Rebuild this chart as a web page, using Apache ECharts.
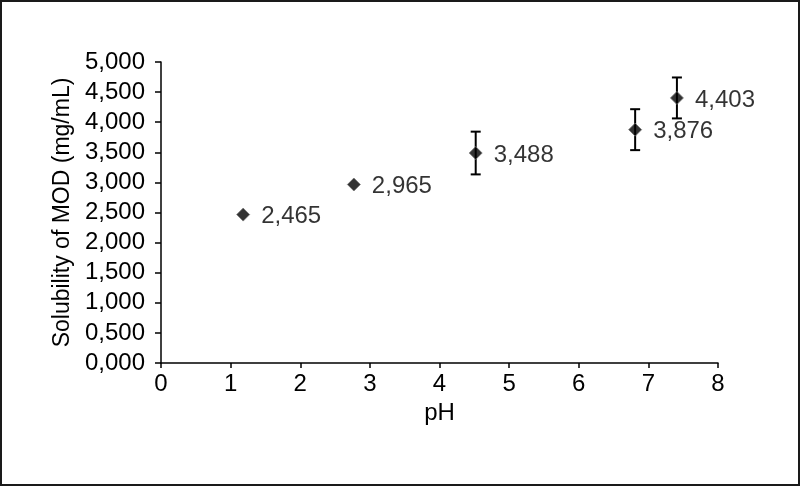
<!DOCTYPE html>
<html>
<head>
<meta charset="utf-8">
<script src="https://cdn.jsdelivr.net/npm/echarts@6/dist/echarts.min.js"></script>
<style>
html,body{margin:0;padding:0;background:#fff;}
#frame{position:absolute;left:0;top:0;width:796px;height:482px;border:2px solid #1a1a1a;}
#chart{position:absolute;left:0;top:0;width:800px;height:486px;}
</style>
</head>
<body>
<div id="frame"></div>
<div id="chart"></div>
<script>
const phValues = [1.18, 2.77, 4.52, 6.81, 7.41];
const solubility = [2.465, 2.965, 3.488, 3.876, 4.403];
const errors = [0, 0, 0.355, 0.340, 0.340];
const xTicks = [0, 1, 2, 3, 4, 5, 6, 7, 8];
const yTicks = [0, 0.5, 1, 1.5, 2, 2.5, 3, 3.5, 4, 4.5, 5];

const fmt = v => v.toFixed(3).replace('.', ',');
const FONT = 'Liberation Sans';
const FS = 24;

const chart = echarts.init(document.getElementById('chart'), null, {renderer: 'canvas'});
chart.setOption({
  animation: false,
  backgroundColor: 'transparent',
  grid: {left: 161, right: 82, top: 62, bottom: 123},
  xAxis: {
    type: 'value', min: xTicks[0], max: xTicks[xTicks.length - 1], interval: 1,
    name: 'pH', nameLocation: 'middle', nameGap: 34,
    nameTextStyle: {fontFamily: FONT, fontSize: FS, color: '#000'},
    axisLine: {lineStyle: {color: '#000', width: 1.5}},
    axisTick: {show: true, length: 5, lineStyle: {color: '#000', width: 1.5}},
    axisLabel: {fontFamily: FONT, fontSize: FS, color: '#000', margin: 9},
    splitLine: {show: false}
  },
  yAxis: {
    type: 'value', min: yTicks[0], max: yTicks[yTicks.length - 1], interval: 0.5,
    name: 'Solubility of MOD (mg/mL)', nameLocation: 'middle', nameGap: 81,
    nameTextStyle: {fontFamily: FONT, fontSize: 23, color: '#000'},
    axisLine: {show: true, lineStyle: {color: '#000', width: 1.5}},
    axisTick: {show: true, length: 6, lineStyle: {color: '#000', width: 1.5}},
    axisLabel: {fontFamily: FONT, fontSize: FS, color: '#000', margin: 16, formatter: fmt},
    splitLine: {show: false}
  },
  series: [
    {
      type: 'custom',
      data: phValues.map((x, i) => [x, solubility[i], errors[i]]),
      renderItem: function (params, api) {
        const x = api.value(0), y = api.value(1), e = api.value(2);
        if (!(e > 0)) return null;
        const top = api.coord([x, y + e]);
        const bot = api.coord([x, y - e]);
        const hw = 5;
        const st = {stroke: '#000', lineWidth: 2};
        return {
          type: 'group',
          children: [
            {type: 'line', shape: {x1: top[0], y1: top[1], x2: bot[0], y2: bot[1]}, style: st},
            {type: 'line', shape: {x1: top[0] - hw, y1: top[1], x2: top[0] + hw, y2: top[1]}, style: st},
            {type: 'line', shape: {x1: bot[0] - hw, y1: bot[1], x2: bot[0] + hw, y2: bot[1]}, style: st}
          ]
        };
      },
      z: 1
    },
    {
      type: 'scatter',
      symbol: 'diamond',
      symbolSize: 13,
      data: phValues.map((x, i) => [x, solubility[i]]),
      itemStyle: {color: '#000', borderColor: '#777', borderWidth: 1},
      label: {
        show: true, position: 'right', distance: 11, offset: [0, 2],
        fontFamily: FONT, fontSize: FS, color: '#000',
        formatter: p => fmt(p.value[1])
      },
      z: 2
    }
  ]
});
</script>
</body>
</html>
